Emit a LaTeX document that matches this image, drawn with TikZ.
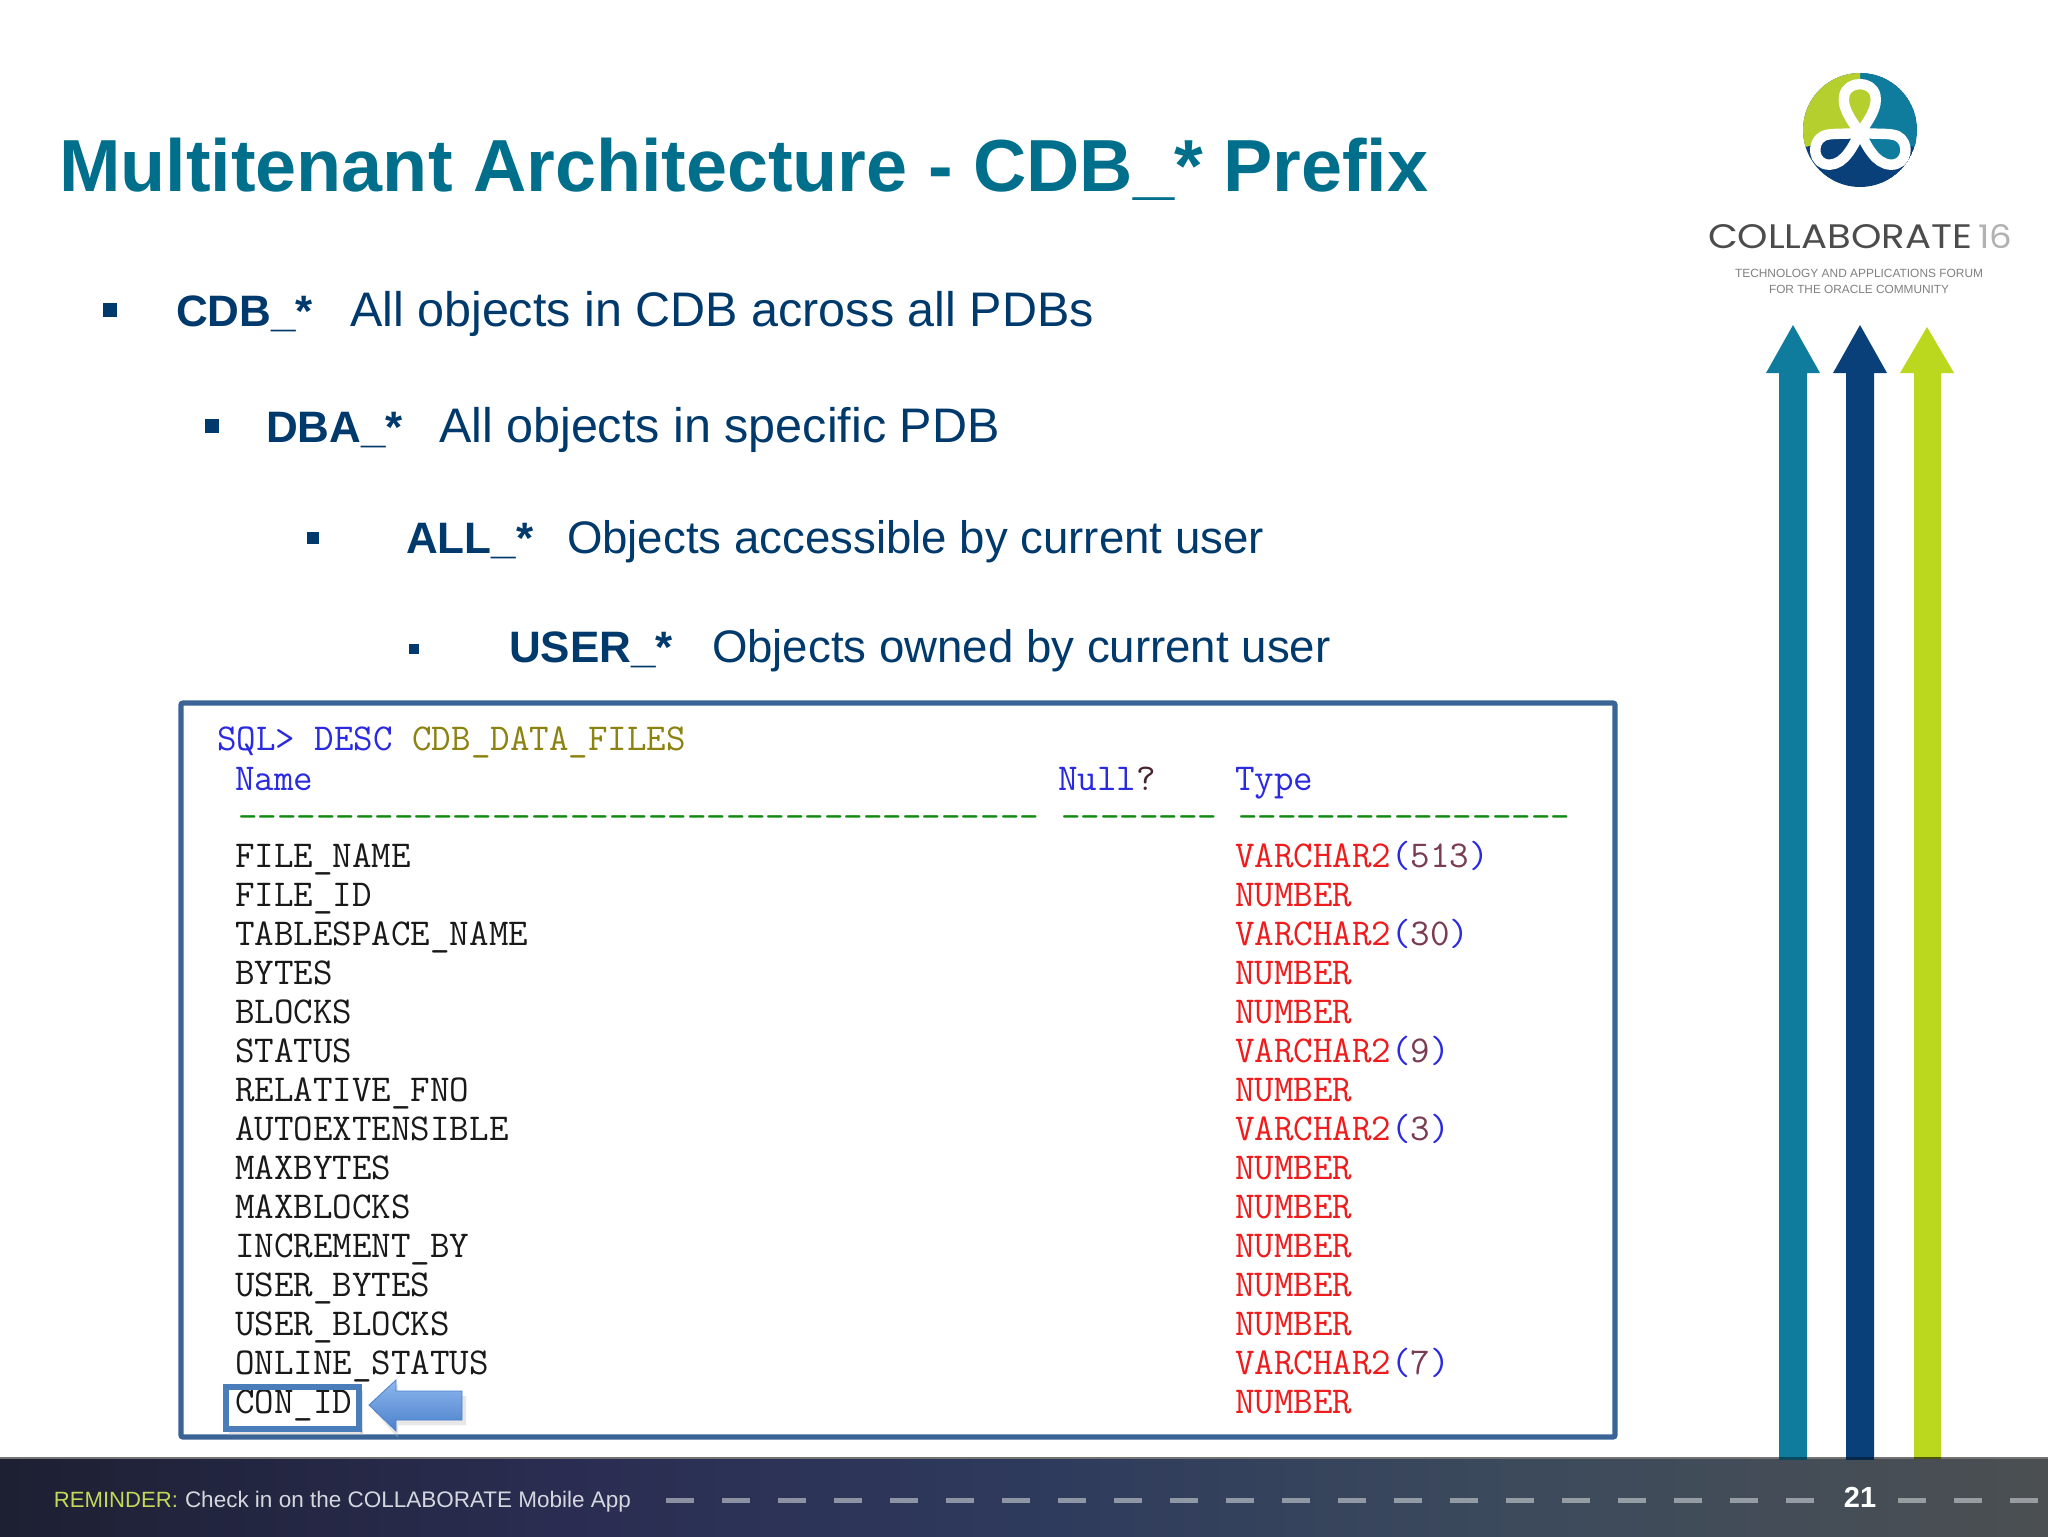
\documentclass[tikz,border=0pt]{standalone}
\usepackage{fontspec}
\usepackage{graphicx}
\setmainfont{Liberation Sans}
\newfontfamily\logofont{Poppins}
\definecolor{titlecol}{HTML}{006F8C}
\definecolor{bodycol}{HTML}{003A6C}
\definecolor{boxcol}{HTML}{3B6496}
\definecolor{hilite}{HTML}{4A7EBB}
\definecolor{arrowtop}{HTML}{8FB8EE}
\definecolor{arrowbot}{HTML}{4A80CC}
\definecolor{sqlblue}{HTML}{2A2AE0}
\definecolor{sqlolive}{HTML}{8C8210}
\definecolor{sqlgreen}{HTML}{108A10}
\definecolor{sqlred}{HTML}{EE1C1C}
\definecolor{sqlbrown}{HTML}{7A3C50}
\definecolor{logogreen}{HTML}{B4CF2E}
\definecolor{logoteal}{HTML}{0F7C9E}
\definecolor{logonavy}{HTML}{0A4079}
\definecolor{arrowgreen}{HTML}{BCD81E}
\definecolor{f0}{HTML}{1D2032}
\definecolor{f1}{HTML}{2A2C50}
\definecolor{f2}{HTML}{2E3A5C}
\definecolor{f3}{HTML}{3C4A5C}
\definecolor{f4}{HTML}{4B4F52}
\definecolor{f5}{HTML}{4A4749}
\pgfdeclarehorizontalshading{footergrad}{100bp}{
 color(0bp)=(f0); color(25bp)=(f0); color(38bp)=(f1); color(50bp)=(f2); color(62bp)=(f3); color(75bp)=(f4); color(100bp)=(f5)}
\tikzset{
  txt/.style={inner sep=0pt,outer sep=0pt,anchor=base west},
  titletxt/.style={txt,text=titlecol,font=\fontsize{36.9}{40}\selectfont\bfseries},
  headtxt/.style={txt,text=bodycol,font=\fontsize{22}{26}\selectfont\bfseries},
  bodytxt/.style={txt,text=bodycol,font=\fontsize{24.25}{28}\selectfont},
  bodysmall/.style={txt,text=bodycol,font=\fontsize{22.8}{28}\selectfont},
  sqltxt/.style={txt,font=\fontsize{18.97}{20}\selectfont\ttfamily\addfontfeature{FakeBold=0.25}},
  bulletbox/.style={fill=bodycol},
}
\newcommand{\sqlty}[1]{\textcolor{sqlred}{VARCHAR2}\textcolor{sqlblue}{(}\textcolor{sqlbrown}{#1}\textcolor{sqlblue}{)}}
\begin{document}
\begin{tikzpicture}[x=0.5pt,y=-0.5pt]
\useasboundingbox (0,0) rectangle (2048,1536);
\fill[white] (0,0) rectangle (2048,1536);
% title
\node[titletxt] (title) at (59,191) {Multitenant Architecture - CDB\_* Prefix};
% bullets
\fill[bulletbox] (103,303) rectangle (117,317);
\fill[bulletbox] (205,419) rectangle (219,433);
\fill[bulletbox] (307,532) rectangle (319,544);
\fill[bulletbox] (409,644) rectangle (419,654);
\node[headtxt] (h1) at (176,326) {CDB\_*};
\node[bodytxt] (b1) at (350,326) {All objects in CDB across all PDBs};
\node[headtxt] (h2) at (266,442) {DBA\_*};
\node[bodytxt] (b2) at (439,442) {All objects in specific PDB};
\node[headtxt] (h3) at (406,553) {ALL\_*};
\node[bodysmall] (b3) at (567,553) {Objects accessible by current user};
\node[headtxt] (h4) at (509,662) {USER\_*};
\node[bodysmall] (b4) at (712,662) {Objects owned by current user};
% sql box
\draw[boxcol,line width=2.6pt,rounded corners=1pt,fill=white] (181,703) rectangle (1615,1437);
\node[sqltxt] (s1) at (217,750) {\textcolor{sqlblue}{SQL> DESC }\textcolor{sqlolive}{CDB\_DATA\_FILES}};
\node[sqltxt,text=sqlblue] (nm) at (235,790) {Name};
\node[sqltxt] (nl) at (1058,790) {\textcolor{sqlblue}{Null}\textcolor{sqlbrown!60!black}{?}};
\node[sqltxt,text=sqlblue] (ty) at (1235,790) {Type};
\node[sqltxt,text=sqlgreen] (d1) at (238,828) {-{}-{}-{}-{}-{}-{}-{}-{}-{}-{}-{}-{}-{}-{}-{}-{}-{}-{}-{}-{}-{}-{}-{}-{}-{}-{}-{}-{}-{}-{}-{}-{}-{}-{}-{}-{}-{}-{}-{}-{}-};
\node[sqltxt,text=sqlgreen] (d2) at (1061,828) {-{}-{}-{}-{}-{}-{}-{}-};
\node[sqltxt,text=sqlgreen] (d3) at (1238,828) {-{}-{}-{}-{}-{}-{}-{}-{}-{}-{}-{}-{}-{}-{}-{}-{}-};
% highlight shadow goes under the text
\fill[black!30,opacity=.35] (229,1430) rectangle (363,1435);
\fill[black!30,opacity=.35] (360,1391) rectangle (363,1435);
\foreach \nm/\ty [count=\i from 0] in {
 FILE\_NAME/{\sqlty{513}},
 FILE\_ID/{\textcolor{sqlred}{NUMBER}},
 TABLESPACE\_NAME/{\sqlty{30}},
 BYTES/{\textcolor{sqlred}{NUMBER}},
 BLOCKS/{\textcolor{sqlred}{NUMBER}},
 STATUS/{\sqlty{9}},
 RELATIVE\_FNO/{\textcolor{sqlred}{NUMBER}},
 AUTOEXTENSIBLE/{\sqlty{3}},
 MAXBYTES/{\textcolor{sqlred}{NUMBER}},
 MAXBLOCKS/{\textcolor{sqlred}{NUMBER}},
 INCREMENT\_BY/{\textcolor{sqlred}{NUMBER}},
 USER\_BYTES/{\textcolor{sqlred}{NUMBER}},
 USER\_BLOCKS/{\textcolor{sqlred}{NUMBER}},
 ONLINE\_STATUS/{\sqlty{7}},
 CON\_ID/{\textcolor{sqlred}{NUMBER}}}{
  \pgfmathsetmacro{\yy}{867+39.03*\i}
  \node[sqltxt,text=black!90] (col\i) at (235,\yy) {\nm};
  \node[sqltxt] (typ\i) at (1235,\yy) {\ty};
}
% highlight around CON_ID
\draw[hilite,line width=3pt] (226,1387) rectangle (359,1429);
% block arrow
\fill[black!30,opacity=.3] (372,1409) -- (398,1384) -- (398,1396) -- (466,1396) -- (466,1425) -- (398,1425) -- (398,1438) -- cycle;
\shade[top color=arrowtop,bottom color=arrowbot,draw=arrowbot,line width=.4pt]
 (369,1405) -- (396,1380) -- (396,1391) -- (462,1391) -- (462,1420) -- (396,1420) -- (396,1431) -- cycle;
% up arrows
\fill[logoteal] (1793,325) -- (1820,373) -- (1807,373) -- (1807,1460) -- (1779,1460) -- (1779,373) -- (1766,373) -- cycle;
\fill[logonavy] (1860,325) -- (1887,373) -- (1874,373) -- (1874,1460) -- (1846,1460) -- (1846,373) -- (1833,373) -- cycle;
\fill[arrowgreen] (1927,327) -- (1954,373) -- (1941,373) -- (1941,1458) -- (1914,1458) -- (1914,373) -- (1900,373) -- cycle;
% logo
\begin{scope}
 \clip (1860,130) circle (57);
 \fill[logonavy] (1860,130) circle (57);
 \fill[logoteal] (1860,130) -- (1860,60) -- (1930,60) -- (1930,152) -- cycle;
 \fill[logogreen] (1860,130) -- (1860,60) -- (1790,60) -- (1790,152) -- cycle;
\end{scope}
\begin{scope}[shift={(1790,62)},x=0.5pt/3,y=-0.5pt/3]
 \tikzset{knot/.style={draw=white,line width=5.2pt,line join=round}}
 \filldraw[knot,fill=logonavy] (210,212) .. controls (160,218) and (120,212) .. (100,222) .. controls (62,240) and (68,310) .. (120,308) .. controls (165,306) and (190,250) .. (210,212) -- cycle;
 \filldraw[knot,fill=logoteal] (210,212) .. controls (260,218) and (300,212) .. (322,222) .. controls (360,240) and (354,310) .. (302,308) .. controls (255,306) and (230,250) .. (210,212) -- cycle;
 \filldraw[knot,fill=logogreen] (210,212) .. controls (180,170) and (155,135) .. (163,100) .. controls (172,55) and (247,55) .. (256,100) .. controls (263,135) and (240,170) .. (210,212) -- cycle;
\end{scope}
\node[txt,text=black!70] (coll) at (1708,248) {\resizebox{132pt}{12pt}{\logofont COLLABORATE}};
\node[txt,text=black!30] (c16) at (1978,248) {\resizebox{17pt}{12pt}{\logofont 16}};
\node[inner sep=0pt,text=black!50,anchor=base] (tag1) at (1859,277) {\resizebox{124pt}{!}{\fontsize{6}{7}\selectfont TECHNOLOGY AND APPLICATIONS FORUM}};
\node[inner sep=0pt,text=black!50,anchor=base] (tag2) at (1859,293) {\resizebox{90pt}{!}{\fontsize{6}{7}\selectfont FOR THE ORACLE COMMUNITY}};
% footer
\shade[shading=footergrad] (0,1459) rectangle (2048,1536);
\fill[black!55] (0,1457) rectangle (2048,1459);
\foreach \k in {0,...,24}{
  \pgfmathsetmacro{\xx}{666+56*\k}
  \ifnum\k=21\relax\else
  \fill[white!75!f3,opacity=.6] (\xx,1497.5) rectangle +(28,5);
  \fi
}
% arrow tails visible over the footer edge
\fill[logoteal!60!black] (1779,1457) rectangle (1807,1460);
\fill[logonavy!60!black] (1846,1457) rectangle (1874,1460);
\fill[arrowgreen!40!black] (1914,1457) rectangle (1941,1459);
\node[txt,text=logogreen!80!white] (rem) at (54,1507) {\resizebox{62pt}{!}{\fontsize{11}{13}\selectfont REMINDER:}};
\node[txt,text=white!80!f2] (chk) at (185,1507) {\resizebox{223pt}{!}{\fontsize{11}{13}\selectfont Check in on the COLLABORATE Mobile App}};
\node[txt,text=white,font=\fontsize{14.5}{16}\selectfont\bfseries,anchor=base] (pg) at (1860,1507) {21};
\end{tikzpicture}
\end{document}
